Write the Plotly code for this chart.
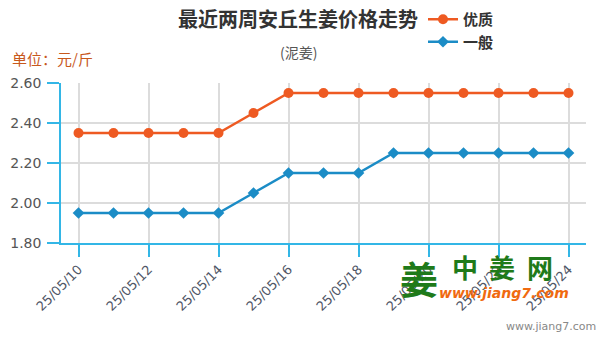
import plotly.graph_objects as go

# Daily ginger prices (yuan per jin), Anqiu, last two weeks
dates = ["25/05/10", "25/05/11", "25/05/12", "25/05/13", "25/05/14",
         "25/05/15", "25/05/16", "25/05/17", "25/05/18", "25/05/19",
         "25/05/20", "25/05/21", "25/05/22", "25/05/23", "25/05/24"]
premium = [2.35, 2.35, 2.35, 2.35, 2.35, 2.45, 2.55, 2.55, 2.55, 2.55,
           2.55, 2.55, 2.55, 2.55, 2.55]
ordinary = [1.95, 1.95, 1.95, 1.95, 1.95, 2.05, 2.15, 2.15, 2.15, 2.25,
            2.25, 2.25, 2.25, 2.25, 2.25]
y_ticks = [1.80, 2.00, 2.20, 2.40, 2.60]

ORANGE = "#ee5a22"
BLUE = "#1b8cc6"
AXIS = "#33b6e6"
GRID = "#dcdcdc"
GREEN = "#1f7a1a"
CJK = "Noto Sans CJK SC"
LATIN = "DejaVu Sans"

fig = go.Figure()
fig.add_trace(go.Scatter(
    x=dates, y=premium, name="<b>优质</b>", mode="lines+markers",
    line=dict(color=ORANGE, width=2.5),
    marker=dict(symbol="circle", size=10, color=ORANGE),
))
fig.add_trace(go.Scatter(
    x=dates, y=ordinary, name="<b>一般</b>", mode="lines+markers",
    line=dict(color=BLUE, width=2.5),
    marker=dict(symbol="diamond", size=9, color=BLUE),
))

fig.update_layout(
    width=601, height=340,
    margin=dict(l=61, r=15, t=83, b=97, autoexpand=False),
    paper_bgcolor="white", plot_bgcolor="white",
    showlegend=True,
    legend=dict(
        xref="container", yref="container",
        x=423 / 601, y=1 - 3 / 340, xanchor="left", yanchor="top",
        font=dict(family=CJK, size=15, color="#333"),
        itemwidth=30, tracegroupgap=0, bgcolor="rgba(0,0,0,0)",
    ),
    hovermode=False,
    font=dict(family=LATIN, color="#555"),
)

fig.update_xaxes(
    type="category",
    range=[-0.5, len(dates) - 0.5],
    tickmode="array",
    tickvals=dates[::2], ticktext=dates[::2],
    tickangle=-45,
    tickfont=dict(family=LATIN, size=13, color="#4f5666"),
    ticks="outside", ticklen=12, tickcolor=AXIS, tickwidth=1.5,
    showline=True, linecolor=AXIS, linewidth=1.5,
    showgrid=True, gridcolor=GRID, gridwidth=1.5,
    zeroline=False, fixedrange=True,
)
fig.update_yaxes(
    range=[1.80, 2.60],
    tickmode="array",
    tickvals=y_ticks, ticktext=[f"{v:.2f}" for v in y_ticks],
    tickfont=dict(family=LATIN, size=14, color="#555"),
    ticks="outside", ticklen=12, tickcolor=AXIS, tickwidth=1.5,
    ticklabelstandoff=3,
    showline=True, linecolor=AXIS, linewidth=1.5,
    showgrid=True, gridcolor=GRID, gridwidth=1.5,
    zeroline=False, fixedrange=True,
)

annotations = [
    # Title and subtitle
    dict(text="<b>最近两周安丘生姜价格走势</b>", x=298 / 601, y=1 - 18 / 340,
         font=dict(family=CJK, size=20, color="#333")),
    dict(text="(泥姜)", x=298 / 601, y=1 - 52 / 340,
         font=dict(family=CJK, size=14, color="#555")),
    # Unit label
    dict(text="单位：元/斤", x=10 / 601, y=1 - 58 / 340, xanchor="left",
         font=dict(family=CJK, size=15, color="#c8581c")),
    # Site logo
    dict(text="<b>姜</b>", x=419 / 601, y=1 - 277 / 340,
         font=dict(family=CJK, size=38, color=GREEN)),
    dict(text="<b>中</b>", x=465 / 601, y=1 - 266 / 340,
         font=dict(family=CJK, size=26, color=GREEN)),
    dict(text="<b>姜</b>", x=502 / 601, y=1 - 266 / 340,
         font=dict(family=CJK, size=26, color=GREEN)),
    dict(text="<b>网</b>", x=540 / 601, y=1 - 266 / 340,
         font=dict(family=CJK, size=26, color=GREEN)),
    dict(text="<b><i>www.jiang7.com</i></b>", x=504 / 601, y=1 - 293 / 340,
         font=dict(family=LATIN, size=14, color="#f06a10")),
    dict(text="www.jiang7.com", x=598 / 601, y=1 - 326 / 340, xanchor="right",
         font=dict(family=LATIN, size=11, color="#888")),
]
for a in annotations:
    a.setdefault("xanchor", "center")
    a.update(xref="paper", yref="paper", showarrow=False, yanchor="middle")
    # convert container fractions to paper fractions
    a["x"] = (a["x"] * 601 - 61) / 525
    a["y"] = (a["y"] * 340 - 97) / 160
fig.update_layout(annotations=annotations)

fig.write_html("out.html")
